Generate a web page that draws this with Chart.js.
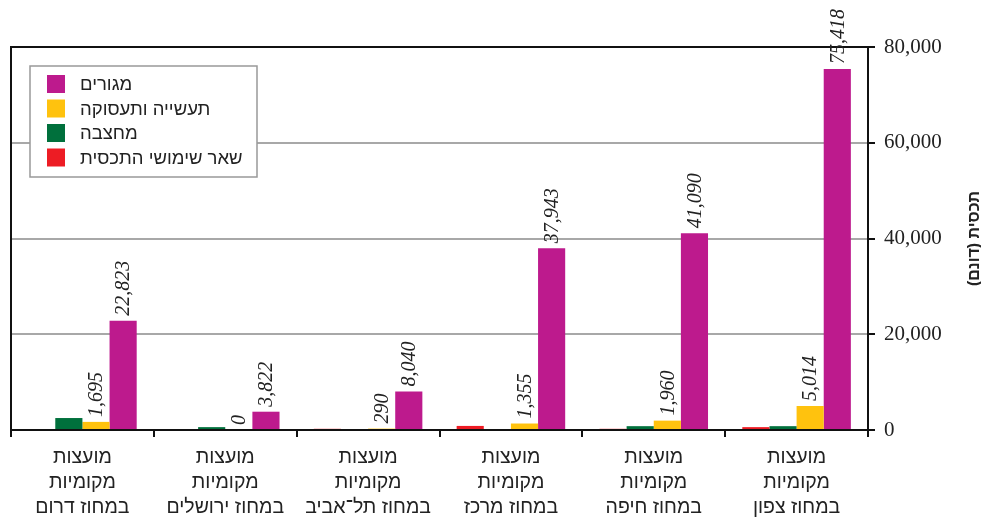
<!DOCTYPE html>
<html>
<head>
<meta charset="utf-8">
<script src="https://cdn.jsdelivr.net/npm/chart.js@4/dist/chart.umd.min.js"></script>
<style>
  body { margin: 0; background: #fff; }
</style>
</head>
<body>
<canvas id="landChart" width="981" height="520"></canvas>
<script>
// categories, left to right
var districts = [
    ["מועצות", "מקומיות", "במחוז דרום"],
    ["מועצות", "מקומיות", "במחוז ירושלים"],
    ["מועצות", "מקומיות", "במחוז תל־אביב"],
    ["מועצות", "מקומיות", "במחוז מרכז"],
    ["מועצות", "מקומיות", "במחוז חיפה"],
    ["מועצות", "מקומיות", "במחוז צפון"]
];

// values in dunams
var residential = [22823, 3822, 8040, 37943, 41090, 75418];
var industry = [1695, 0, 290, 1355, 1960, 5014];
var quarry = [2500, 600, 0, 0, 800, 800];
var otherUses = [0, 0, 250, 850, 250, 600];

var yTicks = [0, 20000, 40000, 60000, 80000];
var axisTitle = "תכסית (דונם)";

var ctx = document.getElementById("landChart").getContext('2d');

// frame on the left and top of the plot area
var framePlugin = {
    id: 'frame',
    beforeDatasetsDraw: function(chart) {
        var a = chart.chartArea;
        var c = chart.ctx;
        c.save();
        c.strokeStyle = "#111";
        c.lineWidth = 2;
        c.beginPath();
        c.moveTo(a.left, a.bottom);
        c.lineTo(a.left, a.top);
        c.lineTo(a.right, a.top);
        c.stroke();
        c.restore();
    }
};

// rotated value labels over yellow and magenta bars
var valueLabels = {
    id: 'valueLabels',
    afterDatasetsDraw: function(chart) {
        var c = chart.ctx;
        c.save();
        c.font = "italic 20px 'Liberation Serif'";
        c.fillStyle = "#222";
        c.textAlign = "left";
        c.textBaseline = "middle";
        chart.data.datasets.forEach(function(ds, i) {
            if (!ds.showValues) return;
            chart.getDatasetMeta(i).data.forEach(function(bar, j) {
                c.save();
                c.translate(bar.x + 1, bar.y - 5);
                c.rotate(-Math.PI / 2);
                c.fillText(ds.data[j].toLocaleString('en-US'), 0, 0);
                c.restore();
            });
        });
        c.restore();
    }
};

// legend box inside the plot + axis title
var boxLegend = {
    id: 'boxLegend',
    afterDraw: function(chart) {
        var c = chart.ctx;
        c.save();
        c.fillStyle = "#fff";
        c.fillRect(30, 66, 227, 111);
        c.strokeStyle = "#999";
        c.lineWidth = 1.5;
        c.strokeRect(30, 66, 227, 111);
        c.font = "18.5px 'Liberation Sans'";
        c.textBaseline = "middle";
        c.textAlign = "left";
        var items = chart.data.datasets.slice().reverse();
        items.forEach(function(ds, i) {
            var y = 84 + i * 24.5;
            c.fillStyle = ds.backgroundColor;
            c.fillRect(47, y - 9, 18, 18);
            c.fillStyle = "#222";
            c.fillText(ds.label, 80, y + 1);
        });

        c.translate(975, (chart.chartArea.top + chart.chartArea.bottom) / 2);
        c.rotate(-Math.PI / 2);
        c.font = "bold 16px 'Liberation Sans'";
        c.textAlign = "center";
        c.fillStyle = "#222";
        c.fillText(axisTitle, 0, 0);
        c.restore();
    }
};

var myChart = new Chart(ctx, {
    type: 'bar',
    data: {
        labels: districts,
        datasets: [
            { label: "שאר שימושי התכסית", data: otherUses, backgroundColor: "#ED1C24" },
            { label: "מחצבה", data: quarry, backgroundColor: "#00703C" },
            { label: "תעשייה ותעסוקה", data: industry, backgroundColor: "#FFC20E", showValues: true },
            { label: "מגורים", data: residential, backgroundColor: "#BD1A8D", showValues: true }
        ]
    },
    options: {
        responsive: false,
        animation: false,
        layout: { padding: { left: 11, top: 47, right: 0, bottom: 0 } },
        datasets: { bar: { categoryPercentage: 0.76, barPercentage: 1 } },
        plugins: { legend: { display: false }, tooltip: { enabled: false } },
        scales: {
            x: {
                grid: { offset: true, drawOnChartArea: false, drawTicks: true, tickLength: 7, tickColor: "#111", lineWidth: 2 },
                border: { color: "#111", width: 2 },
                ticks: { color: "#222", font: { family: "'Liberation Sans'", size: 19.5, lineHeight: 1.28 }, padding: 8, maxRotation: 0, autoSkip: false },
                afterFit: function(scale) { scale.height = 90; }
            },
            y: {
                position: 'right',
                min: 0,
                max: 80000,
                afterBuildTicks: function(scale) {
                    scale.ticks = yTicks.map(function(v) { return { value: v }; });
                },
                grid: { color: "#a8a8a8", lineWidth: 2, tickColor: "#111", tickLength: 7 },
                border: { color: "#111", width: 2 },
                ticks: {
                    color: "#222",
                    padding: 9,
                    font: { family: "'Liberation Serif'", size: 21 },
                    callback: function(v) { return v.toLocaleString('en-US'); }
                },
                afterFit: function(scale) { scale.width = 113; }
            }
        }
    },
    plugins: [framePlugin, valueLabels, boxLegend]
});
</script>
</body>
</html>
